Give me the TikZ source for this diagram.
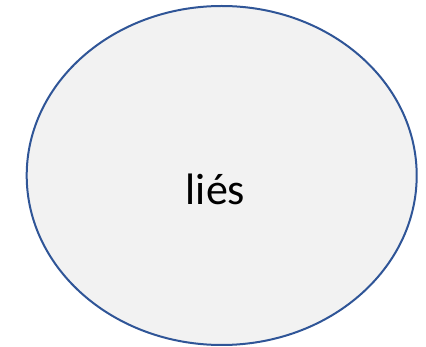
\documentclass[tikz,border=0pt]{standalone}
\usepackage{fontspec}
\setmainfont{Carlito}
\definecolor{ellfill}{HTML}{F2F2F2}
\definecolor{elldraw}{HTML}{2F5597}
\tikzset{blob/.style={draw=elldraw, fill=ellfill, line width=2pt}}
\begin{document}
\begin{tikzpicture}[x=1pt,y=-1pt]
\useasboundingbox (0,0) rectangle (426,347);
\draw[blob] (221.7,175.5) ellipse [x radius=195, y radius=169.5];
\node[anchor=base, inner sep=0pt, font=\fontsize{44}{52}\selectfont] (t) at (215.5,205) {liés};
\end{tikzpicture}
\end{document}
